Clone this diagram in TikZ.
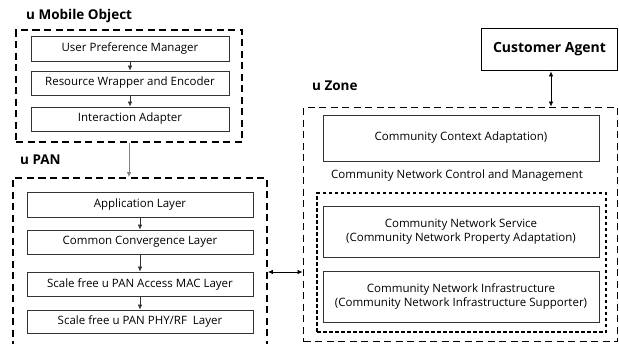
\documentclass[tikz,border=0pt]{standalone}
\usepackage{fontspec}
\setmainfont{Open Sans}
\usetikzlibrary{arrows.meta}
\definecolor{edge}{HTML}{333333}
\tikzset{
  box/.style={draw=edge, line width=0.9pt, minimum width=#1, inner sep=0pt, align=center, font=\fontsize{11.5}{13.5}\selectfont},
  box/.default=198pt,
  outerdash/.style={draw=black, line width=1.8pt, dash pattern=on 7pt off 4.5pt, inner sep=0pt},
  innerdash/.style={draw=black, line width=1.5pt, dash pattern=on 3.5pt off 2.5pt, inner sep=0pt},
  ttl/.style={font=\bfseries\fontsize{13.5}{15}\selectfont, anchor=west, inner sep=0pt},
  arr/.style={-{Latex[length=5pt,width=4.5pt]}, line width=0.7pt, draw=edge},
  darr/.style={{Latex[length=5pt,width=4.5pt]}-{Latex[length=5pt,width=4.5pt]}, line width=0.7pt, draw=black},
  lbl/.style={font=\fontsize{11.5}{13.5}\selectfont, inner sep=0pt}
}
\begin{document}
\begin{tikzpicture}[x=1pt,y=-1pt]
\useasboundingbox (0,0) rectangle (619,343);
\clip (0,0) rectangle (619,343);
% u Mobile Object
\node[ttl] (tmob) at (26,16) {u Mobile Object};
\node[outerdash, minimum width=226pt, minimum height=112pt] (mob) at (129,86) {};
\node[box, minimum height=25pt] (upm) at (130,48.5) {User Preference Manager};
\node[box, minimum height=24pt] (rwe) at (130,83) {Resource Wrapper and Encoder};
\node[box, minimum height=24pt] (ia) at (130,119) {Interaction Adapter};
\draw[arr] (upm) -- (rwe);
\draw[arr] (rwe) -- (ia);
% u PAN
\node[ttl] (tpan) at (20,160) {u PAN};
\node[outerdash, minimum width=254pt, minimum height=180pt] (pan) at (140,268) {};
\node[box=226pt, minimum height=25pt] (app) at (140,204.5) {Application Layer};
\node[box=226pt, minimum height=24pt] (ccl) at (140,242) {Common Convergence Layer};
\node[box=226pt, minimum height=24pt] (mac) at (140,284) {Scale free u PAN Access MAC Layer};
\node[box=226pt, minimum height=23pt] (phy) at (140,321.5) {Scale free u PAN PHY/RF~ Layer};
\draw[arr] (app) -- (ccl);
\draw[arr] (ccl) -- (mac);
\draw[arr] (mac) -- (phy);
\draw[-{Latex[length=5pt,width=4.5pt]}, line width=0.9pt, draw=gray] (mob.south) -- (pan.north -| mob.south);
% Customer Agent
\node[draw=black, line width=1.8pt, minimum width=136pt, minimum height=42pt, inner sep=0pt, font=\bfseries\fontsize{14}{16}\selectfont] (ca) at (549.5,49.5) {Customer Agent};
% u Zone
\node[ttl] (tzone) at (312,86) {u Zone};
\node[outerdash, minimum width=314pt, minimum height=234pt] (zone) at (460.5,224.5) {};
\node[box=276pt, minimum height=46pt] (cca) at (461,138) {Community Context Adaptation)};
\node[lbl] (cncm) at (457,176) {Community Network Control and Management};
\node[innerdash, minimum width=289pt, minimum height=139pt] (inner) at (461.5,262.5) {};
\node[box=276pt, minimum height=51pt] (cns) at (461,231.5) {Community Network Service\\(Community Network Property Adaptation)};
\node[box=276pt, minimum height=51pt] (cni) at (461,296.5) {Community Network Infrastructure\\(Community Network Infrastructure Supporter)};
\draw[white, line width=1.5pt] ([xshift=-2.5pt]cni.north) -- ([xshift=2.5pt]cni.north);
\coordinate (caa) at (551,71);
\draw[darr] (ca.south -| caa) -- (zone.north -| caa);
\coordinate (pz) at (0,272);
\draw[darr] (pan.east |- pz) -- (zone.west |- pz);
\end{tikzpicture}
\end{document}
